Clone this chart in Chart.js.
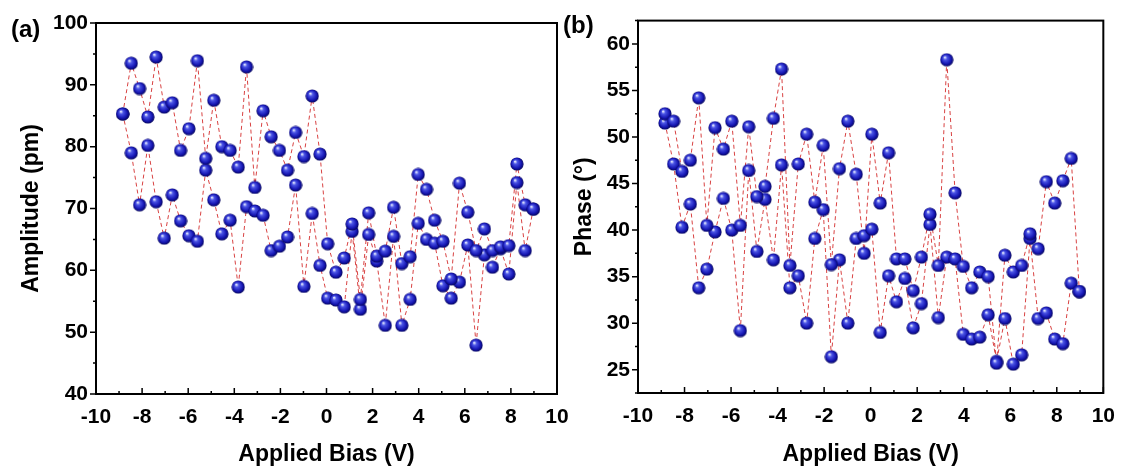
<!DOCTYPE html>
<html>
<head>
<meta charset="utf-8">
<script src="https://cdn.jsdelivr.net/npm/chart.js@4.4.1/dist/chart.umd.min.js"></script>
<style>
  body { margin: 0; background: #fff; }
  #wrap { position: relative; width: 1126px; height: 470px; }
  #chartA { position: absolute; left: 0; top: 0; }
  #chartB { position: absolute; left: 560px; top: 0; }
</style>
</head>
<body>
<div id="wrap">
  <canvas id="chartA" width="580" height="470"></canvas>
  <canvas id="chartB" width="566" height="470"></canvas>
</div>
<script>
"use strict";

// applied bias steps (V), shared by both sweep branches
const bias = [-8.84, -8.47, -8.11, -7.75, -7.39, -7.04, -6.69, -6.33, -5.97, -5.6,
  -5.24, -4.89, -4.54, -4.18, -3.83, -3.47, -3.11, -2.75, -2.4, -2.04,
  -1.69, -1.34, -0.98, -0.62, -0.28, 0.05, 0.41, 0.77, 1.11, 1.47,
  1.83, 2.18, 2.55, 2.91, 3.27, 3.63, 3.98, 4.34, 4.69, 5.05,
  5.41, 5.77, 6.13, 6.49, 6.85, 7.2, 7.55, 7.91, 8.26, 8.62, 8.97];

// amplitude (pm), two branches of the loop
const ampA = [85.3, 93.5, 89.4, 84.8, 94.5, 86.4, 87.1, 79.4, 82.9, 93.9,
  78.1, 87.5, 80.0, 79.4, 76.7, 92.9, 73.4, 85.8, 81.6, 79.4,
  76.2, 82.3, 78.4, 88.2, 78.8, 64.3, 59.7, 62.0, 67.5, 55.3,
  69.3, 62.3, 63.1, 70.2, 61.1, 62.2, 75.5, 73.1, 68.1, 64.7,
  58.6, 74.1, 69.4, 63.2, 66.7, 63.2, 63.8, 64.0, 77.2, 70.6, 69.9];
const ampB = [85.3, 79.0, 70.6, 80.2, 71.1, 65.2, 72.2, 68.0, 65.6, 64.7,
  76.2, 71.4, 65.9, 68.1, 57.3, 70.3, 69.6, 68.9, 63.2, 63.9,
  65.4, 73.8, 57.4, 69.2, 60.8, 55.5, 55.2, 54.1, 66.3, 53.7,
  65.8, 61.5, 51.1, 65.5, 51.1, 55.3, 67.6, 65.0, 64.4, 57.5,
  55.5, 58.1, 64.1, 47.9, 62.5, 60.5, 63.5, 59.4, 74.2, 63.2, 69.9];

// phase (degrees), two branches of the loop
const phaseA = [52.5, 51.7, 46.3, 47.5, 54.2, 40.5, 51.0, 48.7, 51.7, 40.5,
  51.1, 43.6, 44.7, 52.0, 57.3, 36.2, 47.1, 50.3, 43.0, 49.1,
  36.3, 46.6, 51.7, 46.0, 37.5, 50.3, 42.9, 48.3, 36.9, 36.9,
  33.5, 37.1, 41.7, 36.2, 58.3, 44.0, 36.1, 33.8, 35.5, 35.0,
  25.7, 37.3, 35.5, 36.2, 39.6, 38.0, 45.2, 42.9, 45.3, 47.7, 33.4];
const phaseB = [51.5, 47.1, 40.3, 42.8, 33.8, 35.8, 39.8, 43.4, 40.0, 29.2,
  46.4, 37.7, 43.3, 36.8, 47.0, 33.8, 35.1, 30.0, 39.1, 42.2,
  26.4, 36.8, 30.0, 39.1, 39.4, 40.1, 29.0, 35.1, 32.3, 34.8,
  29.5, 32.1, 40.6, 30.6, 37.1, 36.9, 28.8, 28.3, 28.5, 30.9,
  25.9, 30.5, 25.6, 26.6, 39.1, 30.5, 31.1, 28.3, 27.8, 34.3, 33.4];

const FONT = "'Liberation Sans', Arial, sans-serif";

// shaded blue sphere used as marker
function makeBall() {
  const c = document.createElement("canvas");
  c.width = 14;
  c.height = 14;
  const g = c.getContext("2d");
  const grad = g.createRadialGradient(5, 4.5, 0.4, 7, 7, 7);
  grad.addColorStop(0, "#e6ebff");
  grad.addColorStop(0.25, "#4b55e6");
  grad.addColorStop(0.7, "#1515b2");
  grad.addColorStop(1, "#04044f");
  g.fillStyle = grad;
  g.beginPath();
  g.arc(7, 7, 6.6, 0, Math.PI * 2);
  g.fill();
  return c;
}
const ball = makeBall();

// frame, inward x ticks, outward y ticks, panel letter
const frameTicks = {
  id: "frameTicks",
  afterDraw(chart, args, opts) {
    const ctx = chart.ctx;
    const a = chart.chartArea;
    const xs = chart.scales.x;
    const ys = chart.scales.y;
    ctx.save();
    ctx.strokeStyle = "#000";
    ctx.lineWidth = 2;
    ctx.strokeRect(a.left, a.top, a.right - a.left, a.bottom - a.top);
    ctx.lineWidth = 1.5;
    ctx.beginPath();
    for (let v = xs.min; v <= xs.max; v += 1) {
      const px = xs.getPixelForValue(v);
      const len = v % 2 === 0 ? 6 : 3;
      ctx.moveTo(px, a.bottom);
      ctx.lineTo(px, a.bottom - len);
    }
    for (let v = opts.yStart; v <= ys.max + 0.001; v += opts.yMinor) {
      const py = ys.getPixelForValue(v);
      const len = Math.abs(v % opts.yMajor) < 0.001 ? 6 : 3;
      ctx.moveTo(a.left, py);
      ctx.lineTo(a.left - len, py);
    }
    ctx.stroke();
    ctx.fillStyle = "#000";
    ctx.font = "bold 24px " + FONT;
    ctx.textBaseline = "middle";
    ctx.fillText(opts.label, opts.labelX, opts.labelY);
    ctx.restore();
  }
};

function branch(ys, lineOnly) {
  return {
    data: bias.map((x, i) => ({ x: x, y: ys[i] })),
    showLine: lineOnly,
    borderColor: "rgba(212, 45, 45, 0.9)",
    borderWidth: 1,
    borderDash: [4, 3],
    pointStyle: ball,
    pointRadius: lineOnly ? 0 : 7,
    pointHoverRadius: lineOnly ? 0 : 7,
    order: lineOnly ? 2 : 1,
  };
}

function makeChart(id, s1, s2, p) {
  return new Chart(document.getElementById(id), {
    type: "scatter",
    data: {
      datasets: [branch(s1, true), branch(s2, true), branch(s1, false), branch(s2, false)],
    },
    options: {
      responsive: false,
      animation: false,
      events: [],
      layout: { padding: p.padding },
      plugins: {
        legend: { display: false },
        tooltip: { enabled: false },
        frameTicks: p.frame,
      },
      scales: {
        x: {
          type: "linear",
          min: -10,
          max: 10,
          grid: { display: false, drawTicks: false },
          border: { display: false },
          ticks: { stepSize: 2, padding: 11, color: "#000", font: { family: FONT, size: 21, weight: "bold" } },
          title: {
            display: true,
            text: "Applied Bias (V)",
            color: "#000",
            padding: { top: 0, bottom: 2 },
            font: { family: FONT, size: 23, weight: "bold" },
          },
          afterFit(scale) { scale.height = p.xHeight; },
        },
        y: {
          type: "linear",
          min: p.yMin,
          max: p.yMax,
          grid: { display: false, drawTicks: false },
          border: { display: false },
          ticks: {
            stepSize: p.frame.yMinor,
            padding: 8,
            color: "#000",
            font: { family: FONT, size: 21, weight: "bold" },
            callback: (v) => (Math.abs(v % p.frame.yMajor) < 0.001 ? v : null),
          },
          title: {
            display: true,
            text: p.yTitle,
            color: "#000",
            padding: { top: p.yTitlePad, bottom: 0 },
            font: { family: FONT, size: 23, weight: "bold" },
          },
          afterFit(scale) { scale.width = p.yWidth; },
        },
      },
    },
    plugins: [frameTicks],
  });
}

makeChart("chartA", ampA, ampB, {
  padding: { left: 0, top: 23, right: 23, bottom: 0 },
  xHeight: 76,
  yWidth: 96,
  yMin: 40,
  yMax: 100,
  yTitle: "Amplitude (pm)",
  yTitlePad: 18,
  frame: { yStart: 40, yMinor: 5, yMajor: 10, label: "(a)", labelX: 11, labelY: 30 },
});

makeChart("chartB", phaseA, phaseB, {
  padding: { left: 0, top: 16, right: 20, bottom: 0 },
  xHeight: 77,
  yWidth: 78,
  yMin: 22.5,
  yMax: 62.5,
  yTitle: "Phase (°)",
  yTitlePad: 11,
  frame: { yStart: 22.5, yMinor: 2.5, yMajor: 5, label: "(b)", labelX: 3, labelY: 26 },
});
</script>
</body>
</html>
